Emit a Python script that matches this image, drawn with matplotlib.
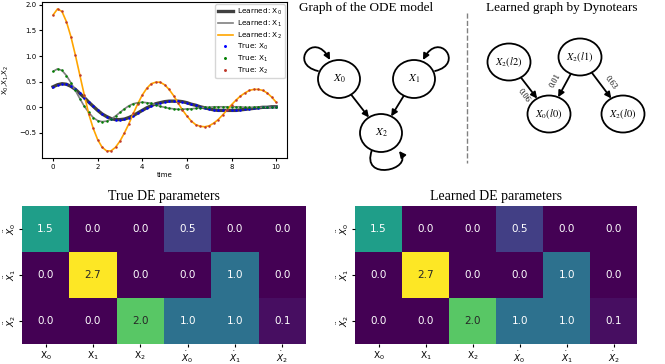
import numpy as np
import matplotlib
matplotlib.use('Agg')
import matplotlib.pyplot as plt
from matplotlib.patches import Ellipse, FancyArrowPatch
from matplotlib.path import Path
import seaborn as sns

# ---- time series (step 0.2) ----
t = np.round(np.arange(0, 10.01, 0.2), 1)
x0 = [0.40, 0.44, 0.46, 0.45, 0.41, 0.35, 0.27, 0.19, 0.10, 0.02,
      -0.06, -0.13, -0.18, -0.22, -0.24, -0.24, -0.23, -0.20, -0.16, -0.11,
      -0.06, -0.01, 0.03, 0.07, 0.09, 0.11, 0.12, 0.12, 0.12, 0.11,
      0.09, 0.06, 0.04, 0.01, -0.01, -0.03, -0.05, -0.06, -0.06, -0.06,
      -0.06, -0.06, -0.05, -0.04, -0.03, -0.02, -0.01, 0.00, 0.00, 0.01, 0.01]
x1 = [0.70, 0.75, 0.72, 0.62, 0.48, 0.33, 0.17, 0.02, -0.10, -0.20,
      -0.26, -0.28, -0.27, -0.23, -0.17, -0.10, -0.03, 0.03, 0.07, 0.09,
      0.10, 0.09, 0.08, 0.05, 0.02, 0.00, -0.02, -0.03, -0.04, -0.04,
      -0.03, -0.03, -0.02, -0.01, 0.00, 0.00, 0.01, 0.01, 0.01, 0.01,
      0.01, 0.01, 0.01, 0.00, 0.00, 0.00, 0.00, 0.00, 0.00, 0.00, 0.00]
x2 = [1.80, 1.92, 1.87, 1.67, 1.38, 1.02, 0.63, 0.24, -0.13, -0.41,
      -0.63, -0.78, -0.85, -0.85, -0.78, -0.66, -0.50, -0.32, -0.12, 0.07,
      0.24, 0.37, 0.46, 0.49, 0.49, 0.44, 0.35, 0.23, 0.09, -0.05,
      -0.17, -0.27, -0.34, -0.37, -0.38, -0.36, -0.31, -0.24, -0.15, -0.05,
      0.05, 0.14, 0.22, 0.28, 0.33, 0.35, 0.35, 0.33, 0.28, 0.20, 0.10]

# ---- DE parameter matrices ----
row_labels = [r'$\ddot{X}_0$', r'$\ddot{X}_1$', r'$\ddot{X}_2$']
col_labels = ['X$_0$', 'X$_1$', 'X$_2$', r'$\dot{X}_0$', r'$\dot{X}_1$', r'$\dot{X}_2$']
true_params = [[1.5, 0.0, 0.0, 0.5, 0.0, 0.0],
               [0.0, 2.7, 0.0, 0.0, 1.0, 0.0],
               [0.0, 0.0, 2.0, 1.0, 1.0, 0.1]]
learned_params = [[1.5, 0.0, 0.0, 0.5, 0.0, 0.0],
                  [0.0, 2.7, 0.0, 0.0, 1.0, 0.0],
                  [0.0, 0.0, 2.0, 1.0, 1.0, 0.1]]

# ---- graphs ----
ode_nodes = ['X_0', 'X_1', 'X_2']
ode_edges = [('X_0', 'X_2'), ('X_1', 'X_2')]
dyn_nodes = ['X_2(l2)', 'X_2(l1)', 'X_0(l0)', 'X_2(l0)']
dyn_edges = [('X_2(l2)', 'X_0(l0)', '0.06'),
             ('X_2(l1)', 'X_0(l0)', '0.01'),
             ('X_2(l1)', 'X_2(l0)', '0.63')]

serif = 'Liberation Serif'

fig = plt.figure(figsize=(6.65, 3.64), dpi=100)

# line plot
ax = fig.add_axes([0.063, 0.566, 0.369, 0.429])
ax.plot(t, x0, color='black', lw=2.4, label='Learned: X$_0$', alpha=0.75)
ax.plot(t, x1, color='grey', lw=1.2, label='Learned: X$_1$')
ax.plot(t, x2, color='orange', lw=1.2, label='Learned: X$_2$')
ax.plot(t, x0, '.', color='blue', ms=1.6, label='True: X$_0$')
ax.plot(t, x1, '.', color='green', ms=1.6, label='True: X$_1$')
ax.plot(t, x2, '.', color='#c0392b', ms=1.6, label='True: X$_2$')
ax.set_xlabel('time', fontsize=5, labelpad=1.5)
ax.set_ylabel('X$_0$,X$_1$,X$_2$', fontsize=5, labelpad=6)
ax.tick_params(labelsize=5, length=2.5, pad=1.5)
ax.set_xticks([0, 2, 4, 6, 8, 10])
ax.set_yticks([-0.5, 0.0, 0.5, 1.0, 1.5, 2.0])
ax.legend(fontsize=5.3, loc='upper right', handlelength=2.0, labelspacing=0.2,
          borderpad=0.35, handletextpad=0.6, borderaxespad=0.35, markerscale=1.4)

# graph drawings, in pixel units
g = fig.add_axes([290 / 665, 0, 375 / 665, 1])
g.set_xlim(290, 665)
g.set_ylim(364, 0)
g.axis('off')

ode_pos = {'X_0': (339, 79), 'X_1': (414, 79), 'X_2': (381, 133)}
dyn_pos = {'X_2(l2)': (509, 62), 'X_2(l1)': (580, 57),
           'X_0(l0)': (549, 114), 'X_2(l0)': (623, 114)}
ode_w, ode_h = 42, 38
dyn_w, dyn_h = 43, 37
# edge label placement: fraction along the edge, sideways offset in px
dyn_label_place = [(0.6, -9), (0.5, -10), (0.6, 9)]

def ellipse_point(c, w, h, toward):
    dx, dy = toward[0] - c[0], toward[1] - c[1]
    ang = np.arctan2(dy / (h / 2), dx / (w / 2))
    return (c[0] + w / 2 * np.cos(ang), c[1] + h / 2 * np.sin(ang))

def draw_nodes(names, pos, w, h, fs):
    for n in names:
        g.add_patch(Ellipse(pos[n], w, h, fc='white', ec='black', lw=1.3, zorder=2))
        g.text(pos[n][0], pos[n][1], '$' + n + '$', ha='center', va='center',
               fontsize=fs, zorder=3, math_fontfamily='stix')

def arrow(p, q):
    g.add_patch(FancyArrowPatch(p, q, arrowstyle='-|>', mutation_scale=9,
                                lw=1.3, color='black', shrinkA=0, shrinkB=0, zorder=1))

draw_nodes(ode_nodes, ode_pos, ode_w, ode_h, 8)
for a, b in ode_edges:
    p = ellipse_point(ode_pos[a], ode_w, ode_h, ode_pos[b])
    q = ellipse_point(ode_pos[b], ode_w, ode_h, ode_pos[a])
    arrow(p, q)

# self loops
loops = [[(318, 71), (288, 64), (314, 30), (330, 60)],
         [(435, 71), (465, 64), (439, 30), (423, 60)],
         [(372, 150), (360, 182), (414, 170), (399, 151)]]
for pts in loops:
    path = Path(pts, [Path.MOVETO, Path.CURVE4, Path.CURVE4, Path.CURVE4])
    g.add_patch(FancyArrowPatch(path=path, arrowstyle='-|>', mutation_scale=9,
                                lw=1.3, color='black', zorder=1))

draw_nodes(dyn_nodes, dyn_pos, dyn_w, dyn_h, 7.5)
for (a, b, wlab), (frac, off) in zip(dyn_edges, dyn_label_place):
    p = ellipse_point(dyn_pos[a], dyn_w, dyn_h, dyn_pos[b])
    q = ellipse_point(dyn_pos[b], dyn_w, dyn_h, dyn_pos[a])
    arrow(p, q)
    dx, dy = q[0] - p[0], q[1] - p[1]
    ln = np.hypot(dx, dy)
    ang = np.degrees(np.arctan2(-dy, dx))
    if ang < -90:
        ang += 180
    if ang > 90:
        ang -= 180
    # normal pointing towards +x side
    nx, ny = dy / ln, -dx / ln
    if nx < 0:
        nx, ny = -nx, -ny
    lx = p[0] + frac * dx + off * nx
    ly = p[1] + frac * dy + off * ny
    g.text(lx, ly, wlab, rotation=ang, ha='center', va='center',
           fontsize=6, family=serif)

g.text(366, 8, 'Graph of the ODE model', ha='center', va='center',
       fontsize=9.5, family=serif)
g.text(562, 8, 'Learned graph by Dynotears', ha='center', va='center',
       fontsize=9.5, family=serif)
g.plot([467, 467], [13, 163], ls='--', color='grey', lw=1)

# heatmaps
for rect, mat, title in [([0.033, 0.055, 0.427, 0.379], true_params, 'True DE parameters'),
                         ([0.534, 0.055, 0.424, 0.379], learned_params, 'Learned DE parameters')]:
    hax = fig.add_axes(rect)
    sns.heatmap(np.array(mat), ax=hax, cmap='viridis', annot=True, fmt='.1f',
                cbar=False, annot_kws={'fontsize': 7.5},
                xticklabels=col_labels, yticklabels=row_labels)
    hax.set_title(title, fontsize=10, family=serif, pad=4)
    hax.tick_params(labelsize=6.5, length=2.5, pad=1.5)
    hax.tick_params(axis='y', pad=0.5)
    hax.set_yticklabels(row_labels, rotation=90, va='center')
    hax.set_xticklabels(col_labels, rotation=0)

fig.savefig('out.png', dpi=100)
